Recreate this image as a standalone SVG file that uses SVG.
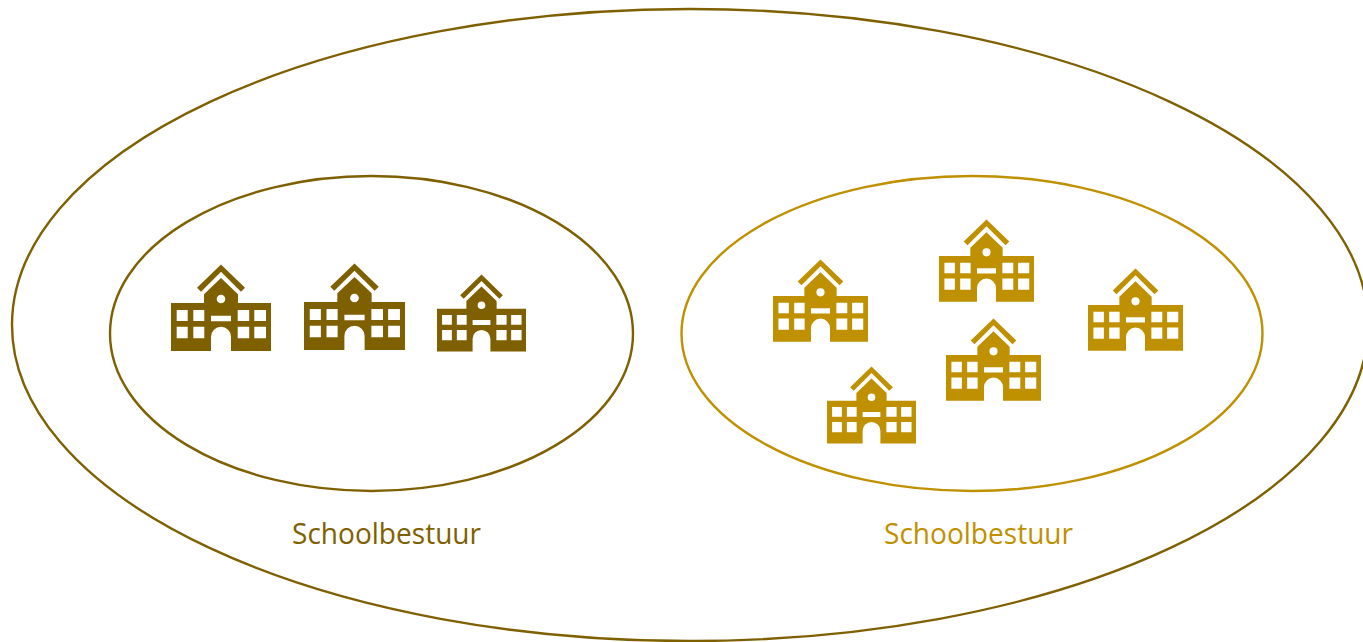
<svg xmlns="http://www.w3.org/2000/svg" xmlns:xlink="http://www.w3.org/1999/xlink" width="1363" height="642" viewBox="0 0 1363 642">
<style>
.ring{fill:none;stroke-width:2.400}
.dark{stroke:#7f6000}
.gold{stroke:#bf9000}
.label{font-family:"Open Sans","Noto Sans",sans-serif;font-size:30px;font-weight:400}
</style>
<defs>
<g id="school">
<path d="M50,-.5L74,22.7L70,26.7L50,6.7L30,26.7L26,22.7Z"/>
<path fill-rule="evenodd" d="M0,38H33V29.3L50,13L67,29.3V38H100V86H60V71.7A10,10 0 0 0 40,71.7V86H0Z
M5.7,45h11v11h-11z M22.3,45h11v11h-11z M66.7,45h11.500v11h-11.500z M83.300,45h11.700v11h-11.700z
M5.700,61.700h11v11.600h-11z M22.300,61.700h11v11.600h-11z M66.700,61.700h11.500v11.600h-11.500z M83.300,61.700h11.700v11.600h-11.700z
M40,50.700h20v5.600h-20z M54.300,34a4.300,4.300 0 1 0 -8.600,0a4.300,4.300 0 1 0 8.600,0z"/>
</g>
</defs>
<rect width="1363" height="642" fill="#fff"/>
<g id="connectors"/>
<g id="outer-ellipse"><ellipse class="ring dark" cx="690" cy="325" rx="678" ry="316"/></g>
<g id="left-board">
<ellipse class="ring dark" cx="371.500" cy="333.500" rx="261.500" ry="157.500"/>
<text class="label" x="292" y="544" fill="#7f6000" textLength="189" lengthAdjust="spacingAndGlyphs">Schoolbestuur</text>
</g>
<g id="right-board">
<ellipse class="ring gold" cx="972" cy="333.500" rx="290.500" ry="157.500"/>
<text class="label" x="884" y="544" fill="#bf9000" textLength="189" lengthAdjust="spacingAndGlyphs">Schoolbestuur</text>
</g>
<g id="school-l1" fill="#7f6000"><use xlink:href="#school" href="#school" transform="translate(171,265)"/></g>
<g id="school-l2" fill="#7f6000"><use xlink:href="#school" href="#school" transform="translate(304,264) scale(1.01,1)"/></g>
<g id="school-l3" fill="#7f6000"><use xlink:href="#school" href="#school" transform="translate(437,275) scale(.89)"/></g>
<g id="school-r1" fill="#bf9000"><use xlink:href="#school" href="#school" transform="translate(773,260) scale(.95)"/></g>
<g id="school-r2" fill="#bf9000"><use xlink:href="#school" href="#school" transform="translate(939,220) scale(.95)"/></g>
<g id="school-r3" fill="#bf9000"><use xlink:href="#school" href="#school" transform="translate(1088,269) scale(.95)"/></g>
<g id="school-r4" fill="#bf9000"><use xlink:href="#school" href="#school" transform="translate(946,319) scale(.95)"/></g>
<g id="school-r5" fill="#bf9000"><use xlink:href="#school" href="#school" transform="translate(827,367) scale(.89)"/></g>
</svg>
